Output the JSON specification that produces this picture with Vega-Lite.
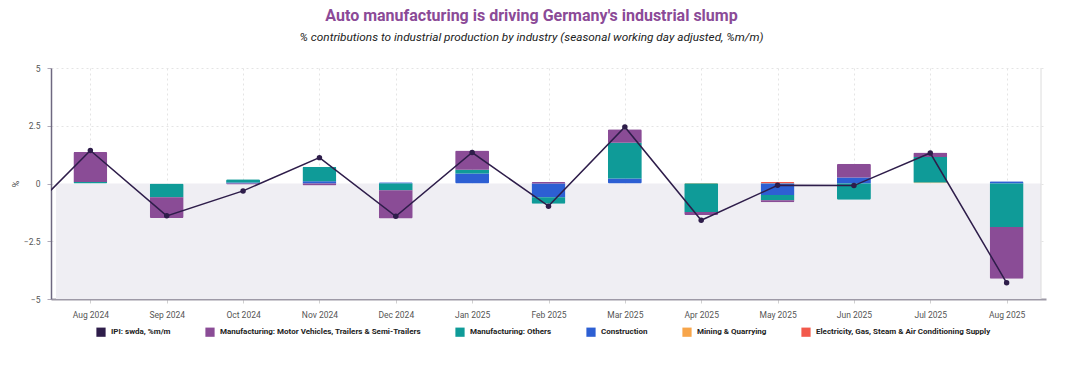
{
  "$schema": "https://vega.github.io/schema/vega-lite/v6.json",
  "width": 995,
  "height": 231,
  "autosize": {"type": "none"},
  "padding": {"left": 51, "top": 68, "right": 24, "bottom": 66},
  "background": "white",
  "config": {
    "font": "Roboto",
    "view": {"stroke": null}
  },
  "title": {
    "text": "Auto manufacturing is driving Germany's industrial slump",
    "subtitle": "% contributions to industrial production by industry (seasonal working day adjusted, %m/m)",
    "color": "#8b4a97",
    "fontSize": 16,
    "fontWeight": "bold",
    "subtitleFontStyle": "italic",
    "subtitleColor": "#222222",
    "subtitleFontSize": 11.8,
    "anchor": "middle",
    "dx": -17,
    "offset": 20,
    "subtitlePadding": 8
  },
  "datasets": {
    "contrib": [
      {"month": "Aug 2024", "i": 0, "series": "Manufacturing: Others", "value": 0.06},
      {"month": "Aug 2024", "i": 0, "series": "Manufacturing: Motor Vehicles, Trailers & Semi-Trailers", "value": 1.30},
      {"month": "Sep 2024", "i": 1, "series": "Manufacturing: Others", "value": -0.59},
      {"month": "Sep 2024", "i": 1, "series": "Manufacturing: Motor Vehicles, Trailers & Semi-Trailers", "value": -0.90},
      {"month": "Oct 2024", "i": 2, "series": "Construction", "value": 0.04},
      {"month": "Oct 2024", "i": 2, "series": "Manufacturing: Others", "value": 0.14},
      {"month": "Oct 2024", "i": 2, "series": "Manufacturing: Motor Vehicles, Trailers & Semi-Trailers", "value": -0.04},
      {"month": "Nov 2024", "i": 3, "series": "Construction", "value": 0.10},
      {"month": "Nov 2024", "i": 3, "series": "Manufacturing: Others", "value": 0.63},
      {"month": "Nov 2024", "i": 3, "series": "Manufacturing: Motor Vehicles, Trailers & Semi-Trailers", "value": -0.09},
      {"month": "Dec 2024", "i": 4, "series": "Construction", "value": 0.05},
      {"month": "Dec 2024", "i": 4, "series": "Manufacturing: Others", "value": -0.29},
      {"month": "Dec 2024", "i": 4, "series": "Manufacturing: Motor Vehicles, Trailers & Semi-Trailers", "value": -1.22},
      {"month": "Jan 2025", "i": 5, "series": "Construction", "value": 0.43},
      {"month": "Jan 2025", "i": 5, "series": "Manufacturing: Others", "value": 0.17},
      {"month": "Jan 2025", "i": 5, "series": "Manufacturing: Motor Vehicles, Trailers & Semi-Trailers", "value": 0.83},
      {"month": "Feb 2025", "i": 6, "series": "Construction", "value": -0.60},
      {"month": "Feb 2025", "i": 6, "series": "Manufacturing: Others", "value": -0.28},
      {"month": "Feb 2025", "i": 6, "series": "Manufacturing: Motor Vehicles, Trailers & Semi-Trailers", "value": 0.06},
      {"month": "Mar 2025", "i": 7, "series": "Construction", "value": 0.22},
      {"month": "Mar 2025", "i": 7, "series": "Manufacturing: Others", "value": 1.54},
      {"month": "Mar 2025", "i": 7, "series": "Manufacturing: Motor Vehicles, Trailers & Semi-Trailers", "value": 0.59},
      {"month": "Apr 2025", "i": 8, "series": "Mining & Quarrying", "value": 0.02},
      {"month": "Apr 2025", "i": 8, "series": "Manufacturing: Others", "value": -1.23},
      {"month": "Apr 2025", "i": 8, "series": "Manufacturing: Motor Vehicles, Trailers & Semi-Trailers", "value": -0.13},
      {"month": "May 2025", "i": 9, "series": "Mining & Quarrying", "value": 0.02},
      {"month": "May 2025", "i": 9, "series": "Electricity, Gas, Steam & Air Conditioning Supply", "value": 0.04},
      {"month": "May 2025", "i": 9, "series": "Construction", "value": -0.50},
      {"month": "May 2025", "i": 9, "series": "Manufacturing: Others", "value": -0.22},
      {"month": "May 2025", "i": 9, "series": "Manufacturing: Motor Vehicles, Trailers & Semi-Trailers", "value": -0.09},
      {"month": "Jun 2025", "i": 10, "series": "Construction", "value": 0.26},
      {"month": "Jun 2025", "i": 10, "series": "Manufacturing: Others", "value": -0.70},
      {"month": "Jun 2025", "i": 10, "series": "Manufacturing: Motor Vehicles, Trailers & Semi-Trailers", "value": 0.60},
      {"month": "Jul 2025", "i": 11, "series": "Mining & Quarrying", "value": 0.04},
      {"month": "Jul 2025", "i": 11, "series": "Manufacturing: Others", "value": 1.11},
      {"month": "Jul 2025", "i": 11, "series": "Manufacturing: Motor Vehicles, Trailers & Semi-Trailers", "value": 0.19},
      {"month": "Aug 2025", "i": 12, "series": "Construction", "value": 0.10},
      {"month": "Aug 2025", "i": 12, "series": "Manufacturing: Others", "value": -1.88},
      {"month": "Aug 2025", "i": 12, "series": "Manufacturing: Motor Vehicles, Trailers & Semi-Trailers", "value": -2.24}
    ],
    "ipi": [
      {"month": "Jul 2024", "i": -1, "value": -1.9},
      {"month": "Aug 2024", "i": 0, "value": 1.43},
      {"month": "Sep 2024", "i": 1, "value": -1.40},
      {"month": "Oct 2024", "i": 2, "value": -0.32},
      {"month": "Nov 2024", "i": 3, "value": 1.12},
      {"month": "Dec 2024", "i": 4, "value": -1.42},
      {"month": "Jan 2025", "i": 5, "value": 1.34},
      {"month": "Feb 2025", "i": 6, "value": -0.98},
      {"month": "Mar 2025", "i": 7, "value": 2.45},
      {"month": "Apr 2025", "i": 8, "value": -1.59},
      {"month": "May 2025", "i": 9, "value": -0.08},
      {"month": "Jun 2025", "i": 10, "value": -0.09},
      {"month": "Jul 2025", "i": 11, "value": 1.32},
      {"month": "Aug 2025", "i": 12, "value": -4.30}
    ]
  },
  "encoding": {
    "x": {
      "field": "i",
      "type": "quantitative",
      "scale": {"domain": [-0.45, 12.45], "nice": false, "zero": false},
      "axis": {
        "values": [0, 1, 2, 3, 4, 5, 6, 7, 8, 9, 10, 11, 12],
        "labelExpr": "['Aug 2024','Sep 2024','Oct 2024','Nov 2024','Dec 2024','Jan 2025','Feb 2025','Mar 2025','Apr 2025','May 2025','Jun 2025','Jul 2025','Aug 2025'][datum.value]",
        "title": null,
        "labelFont": "Roboto",
        "labelFontSize": 8.5,
        "labelColor": "#555555",
        "labelPadding": 7,
        "tickSize": 4,
        "tickColor": "#d0d0d0",
        "domainColor": "#9d99a6",
        "domainWidth": 2,
        "grid": true,
        "gridColor": "#e4e4e4",
        "gridDash": [2, 3]
      }
    },
    "y": {
      "field": "value",
      "type": "quantitative",
      "scale": {"domain": [-5, 5], "nice": false},
      "axis": {
        "values": [-5, -2.5, 0, 2.5, 5],
        "format": ".1~f",
        "title": "%",
        "titleFont": "Roboto",
        "titleFontSize": 9,
        "titleFontWeight": "normal",
        "titleColor": "#444444",
        "titlePadding": 3,
        "labelFont": "Roboto",
        "labelFontSize": 8.5,
        "labelColor": "#555555",
        "labelPadding": 7,
        "tickSize": 4,
        "tickColor": "#b0aab8",
        "domainColor": "#6e6880",
        "domainWidth": 1.5,
        "grid": true,
        "gridColor": "#e4e4e4",
        "gridDash": [2, 3]
      }
    }
  },
  "layer": [
    {
      "data": {"values": [{"x0": -0.45, "x1": 12.45, "y0": 0, "y1": -5}]},
      "mark": {"type": "rect", "color": "#efeef3"},
      "encoding": {
        "x": {"field": "x0", "type": "quantitative"},
        "x2": {"field": "x1"},
        "y": {"field": "y0", "type": "quantitative"},
        "y2": {"field": "y1"}
      }
    },
    {
      "data": {"name": "contrib"},
      "transform": [
        {"calculate": "indexof(['Mining & Quarrying','Electricity, Gas, Steam & Air Conditioning Supply','Construction','Manufacturing: Others','Manufacturing: Motor Vehicles, Trailers & Semi-Trailers'], datum.series)", "as": "ord"}
      ],
      "mark": {"type": "bar", "size": 34, "cornerRadius": 1.5},
      "encoding": {
        "y": {"field": "value", "type": "quantitative", "stack": "zero"},
        "order": {"field": "ord", "type": "quantitative"},
        "color": {
          "field": "series",
          "type": "nominal",
          "scale": {
            "domain": ["IPI: swda, %m/m", "Manufacturing: Motor Vehicles, Trailers & Semi-Trailers", "Manufacturing: Others", "Construction", "Mining & Quarrying", "Electricity, Gas, Steam & Air Conditioning Supply"],
            "range": ["#2e1d4a", "#8a4c96", "#0f9b98", "#2d5fd3", "#f7a54a", "#f2594b"]
          },
          "legend": {
            "title": null,
            "orient": "none",
            "legendX": 45,
            "legendY": 259,
            "direction": "horizontal",
            "symbolType": "square",
            "symbolSize": 85,
            "symbolStrokeWidth": 0,
            "labelFont": "Roboto",
            "labelFontSize": 8,
            "labelFontWeight": "bold",
            "labelColor": "#222222",
            "labelOffset": 5,
            "columnPadding": 34,
            "labelLimit": 400
          }
        }
      }
    },
    {
      "data": {"values": [{"x0": 12.45, "y0": 5, "y1": -5}]},
      "mark": {"type": "rule", "color": "#dcdcdc", "strokeWidth": 1},
      "encoding": {
        "x": {"field": "x0", "type": "quantitative"},
        "y": {"field": "y0", "type": "quantitative"},
        "y2": {"field": "y1"}
      }
    },
    {
      "data": {"name": "ipi"},
      "mark": {"type": "line", "color": "#2e1d4a", "strokeWidth": 1.5, "clip": true},
      "encoding": {}
    },
    {
      "data": {"name": "ipi"},
      "transform": [{"filter": "datum.i >= 0"}],
      "mark": {"type": "circle", "color": "#2e1d4a", "size": 30, "opacity": 1},
      "encoding": {}
    }
  ]
}
